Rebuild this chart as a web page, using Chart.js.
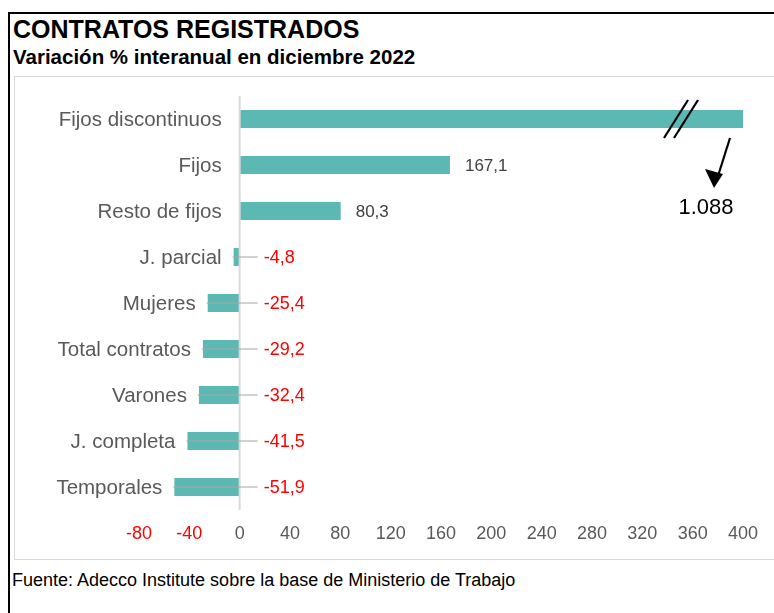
<!DOCTYPE html>
<html>
<head>
<meta charset="utf-8">
<script src="https://cdn.jsdelivr.net/npm/chart.js@4.4.1/dist/chart.umd.min.js"></script>
<style>
  html, body { margin: 0; padding: 0; background: #fff; }
  body { width: 774px; height: 613px; position: relative; overflow: hidden; font-family: "Liberation Sans", Arial, sans-serif; line-height: 1; }
  #frame { position: absolute; left: 8px; top: 12px; width: 800px; height: 700px; border-left: 2px solid #000; border-top: 2px solid #000; }
  #title { position: absolute; left: 13px; top: 17px; font-size: 25px; font-weight: bold; color: #000; }
  #subtitle { position: absolute; left: 13px; top: 47px; font-size: 20.5px; font-weight: bold; color: #000; }
  #box { position: absolute; left: 14px; top: 76px; width: 800px; height: 482px; border: 1px solid #d9d9d9; }
  #wrap { position: absolute; left: 15px; top: 77px; width: 757px; height: 482px; }
  #note { position: absolute; left: 12px; top: 571px; font-size: 18px; color: #000; }
</style>
</head>
<body>
<div id="frame"></div>
<div id="title">CONTRATOS REGISTRADOS</div>
<div id="subtitle">Variación % interanual en diciembre 2022</div>
<div id="box"></div>
<div id="wrap"><canvas id="barChart"></canvas></div>
<div id="note">Fuente: Adecco Institute sobre la base de Ministerio de Trabajo</div>
<script>
const categories = ['Fijos discontinuos', 'Fijos', 'Resto de fijos', 'J. parcial', 'Mujeres',
  'Total contratos', 'Varones', 'J. completa', 'Temporales'];
const values = [1088, 167.1, 80.3, -4.8, -25.4, -29.2, -32.4, -41.5, -51.9];
const xTicks = [-80, -40, 0, 40, 80, 120, 160, 200, 240, 280, 320, 360, 400];
const axisMax = 400;

// the big bar is cut at the axis end
const shown = values.map(v => Math.min(v, axisMax));
const fmt = v => v.toFixed(1).replace('.', ',');
const fmtBig = v => v.toLocaleString('de-DE');
const FONT = '"Liberation Sans", Arial, sans-serif';

const labelsPlugin = {
  id: 'barLabels',
  afterDatasetsDraw(chart) {
    const c = chart.ctx;
    const meta = chart.getDatasetMeta(0);
    const x = chart.scales.x;
    const x0 = x.getPixelForValue(0);
    const area = chart.chartArea;

    // zero line
    c.save();
    c.strokeStyle = '#d9d9d9';
    c.lineWidth = 2;
    c.beginPath();
    c.moveTo(x0, area.top);
    c.lineTo(x0, area.bottom);
    c.stroke();

    // category labels: left of the zero line, or left of the bar when it is negative
    c.textBaseline = 'middle';
    c.textAlign = 'right';
    c.font = '20.5px ' + FONT;
    c.fillStyle = '#595959';
    meta.data.forEach((bar, i) => {
      const edge = Math.min(bar.x, x0 - 6);
      c.fillText(categories[i], edge - 12, bar.y + 1);
    });
    c.textAlign = 'left';

    meta.data.forEach((bar, i) => {
      const v = values[i];
      if (v > axisMax) return;
      if (v < 0) {
        c.strokeStyle = '#a6a6a6';
        c.lineWidth = 1;
        c.beginPath();
        c.moveTo(bar.x - 1, bar.y);
        c.lineTo(x0 + 18, bar.y);
        c.stroke();
        c.font = '18px ' + FONT;
        c.fillStyle = '#ff0000';
        c.fillText(fmt(v), x0 + 24, bar.y + 1);
      } else {
        c.font = '17px ' + FONT;
        c.fillStyle = '#404040';
        c.fillText(fmt(v), bar.x + 15, bar.y + 1);
      }
    });

    // break marks and arrow for the cut bar
    values.forEach((v, i) => {
      if (v <= axisMax) return;
      const bar = meta.data[i];
      c.strokeStyle = '#000';
      c.lineWidth = 2.2;
      [-67, -57].forEach(dx => {
        c.beginPath();
        c.moveTo(bar.x + dx - 12, bar.y + 19);
        c.lineTo(bar.x + dx + 12, bar.y - 19);
        c.stroke();
      });
      const ax1 = bar.x - 13, ay1 = bar.y + 19;
      const ax2 = bar.x - 29, ay2 = bar.y + 69;
      c.beginPath();
      c.moveTo(ax1, ay1);
      c.lineTo(ax2 + 4, ay2 - 12);
      c.stroke();
      c.fillStyle = '#000';
      c.beginPath();
      c.moveTo(ax2, ay2);
      c.lineTo(ax2 - 9, ay2 - 19);
      c.lineTo(ax2 + 9, ay2 - 14);
      c.closePath();
      c.fill();
      c.font = '22px ' + FONT;
      c.textAlign = 'center';
      c.fillText(fmtBig(v), bar.x - 37, bar.y + 89);
      c.textAlign = 'left';
    });
    c.restore();
  }
};

const ctx = document.getElementById('barChart');

new Chart(ctx, {
  type: 'bar',
  data: {
    labels: categories,
    datasets: [{
      data: shown,
      backgroundColor: '#5cb8b2',
      borderWidth: 0,
      categoryPercentage: 1,
      barPercentage: 0.39
    }]
  },
  options: {
    indexAxis: 'y',
    responsive: true,
    maintainAspectRatio: false,
    animation: false,
    layout: { padding: { top: 19, right: 29, bottom: 0, left: 0 } },
    plugins: {
      legend: { display: false },
      tooltip: { enabled: false }
    },
    scales: {
      x: {
        min: -80,
        max: 400,
        afterBuildTicks: s => { s.ticks = xTicks.map(v => ({ value: v })); },
        afterFit: s => { s.height = 49; },
        grid: { display: false, drawTicks: false },
        border: { display: false },
        ticks: {
          padding: 13,
          color: ctx => ctx.tick.value < 0 ? '#ff0000' : '#595959',
          font: { size: 18, family: FONT }
        }
      },
      y: {
        afterFit: s => { s.width = 124; },
        grid: { display: false, drawTicks: false },
        border: { display: false },
        ticks: { display: false }
      }
    }
  },
  plugins: [labelsPlugin]
});
</script>
</body>
</html>
